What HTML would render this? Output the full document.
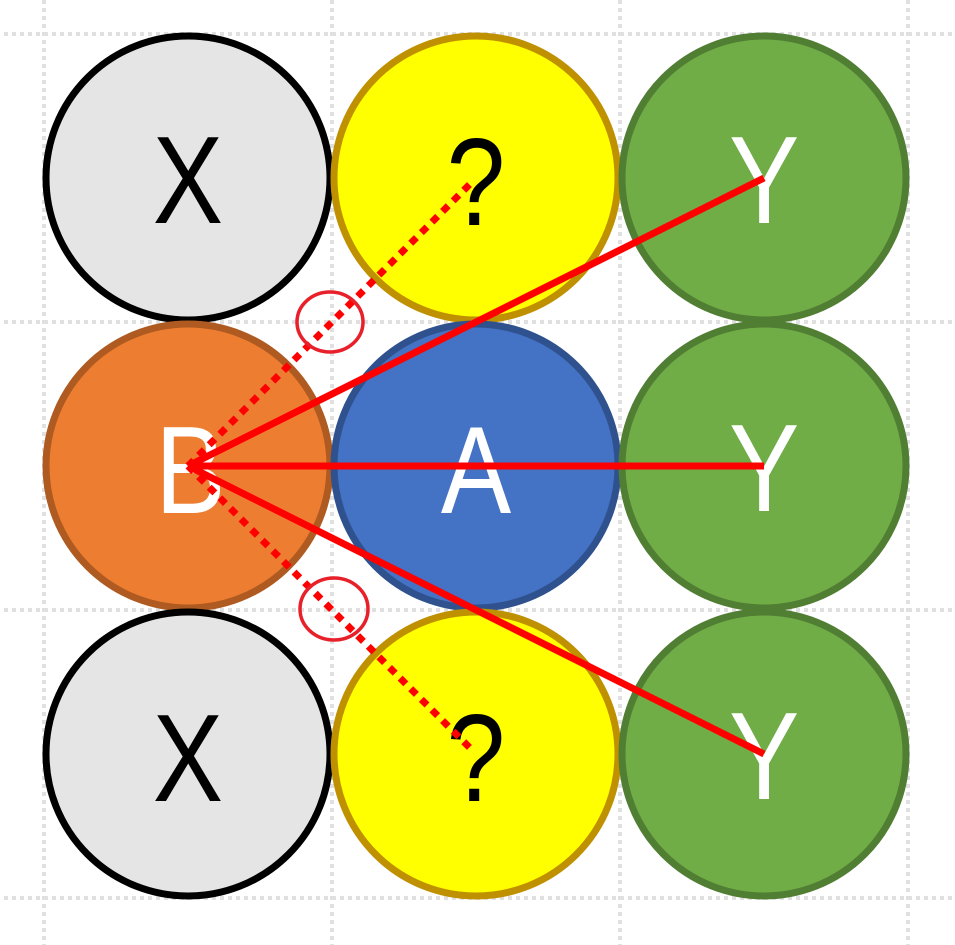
<!DOCTYPE html>
<html><head><meta charset="utf-8"><style>
html,body{margin:0;padding:0;background:#fff;}
svg{display:block;}
text{font-family:"Liberation Sans",sans-serif;font-size:124px;text-anchor:middle;}
</style></head><body>
<svg width="955" height="945" viewBox="0 0 955 945">
<g stroke="#e0e0e0" stroke-width="4" stroke-dasharray="4 4">
<line x1="44" y1="0" x2="44" y2="945"/><line x1="332" y1="0" x2="332" y2="945"/>
<line x1="620" y1="0" x2="620" y2="945"/><line x1="908" y1="0" x2="908" y2="945"/>
<line x1="4" y1="34" x2="955" y2="34"/><line x1="4" y1="322" x2="955" y2="322"/>
<line x1="4" y1="610" x2="955" y2="610"/><line x1="4" y1="898" x2="955" y2="898"/>
</g>
<g stroke-width="7">
<circle cx="188" cy="178" r="142" fill="#e5e5e5" stroke="#000"/>
<circle cx="476" cy="178" r="142" fill="#ffff00" stroke="#bf9000"/>
<circle cx="764" cy="178" r="142" fill="#70ad47" stroke="#507e32"/>
<circle cx="188" cy="466" r="142" fill="#ed7d31" stroke="#ae5a21"/>
<circle cx="476" cy="466" r="142" fill="#4472c4" stroke="#2f528f"/>
<circle cx="764" cy="466" r="142" fill="#70ad47" stroke="#507e32"/>
<circle cx="188" cy="754" r="142" fill="#e5e5e5" stroke="#000"/>
<circle cx="476" cy="754" r="142" fill="#ffff00" stroke="#bf9000"/>
<circle cx="764" cy="754" r="142" fill="#70ad47" stroke="#507e32"/>
</g>
<g transform="scale(0.85,1)">
<text x="221" y="223" fill="#000">X</text>
<text x="560" y="225" fill="#000">?</text>
<text x="899" y="223" fill="#fff">Y</text>
<text x="224" y="513" fill="#fff">B</text>
<text x="560" y="513" fill="#fff">A</text>
<text x="899" y="511" fill="#fff">Y</text>
<text x="221" y="801" fill="#000">X</text>
<text x="560" y="801" fill="#000">?</text>
<text x="899" y="799" fill="#fff">Y</text>
</g>
<g stroke="#ff0000" stroke-width="7">
<line x1="188" y1="466" x2="764" y2="178"/>
<line x1="188" y1="466" x2="764" y2="466"/>
<line x1="188" y1="466" x2="764" y2="754"/>
<line x1="188" y1="466" x2="473" y2="181" stroke-dasharray="8 7"/>
<line x1="188" y1="466" x2="473" y2="751" stroke-dasharray="8 7"/>
</g>
<g fill="none" stroke="#e8202a" stroke-width="3.5">
<ellipse cx="330" cy="322" rx="33" ry="30"/>
<ellipse cx="334" cy="609" rx="34" ry="31"/>
</g>
</svg>
</body></html>
